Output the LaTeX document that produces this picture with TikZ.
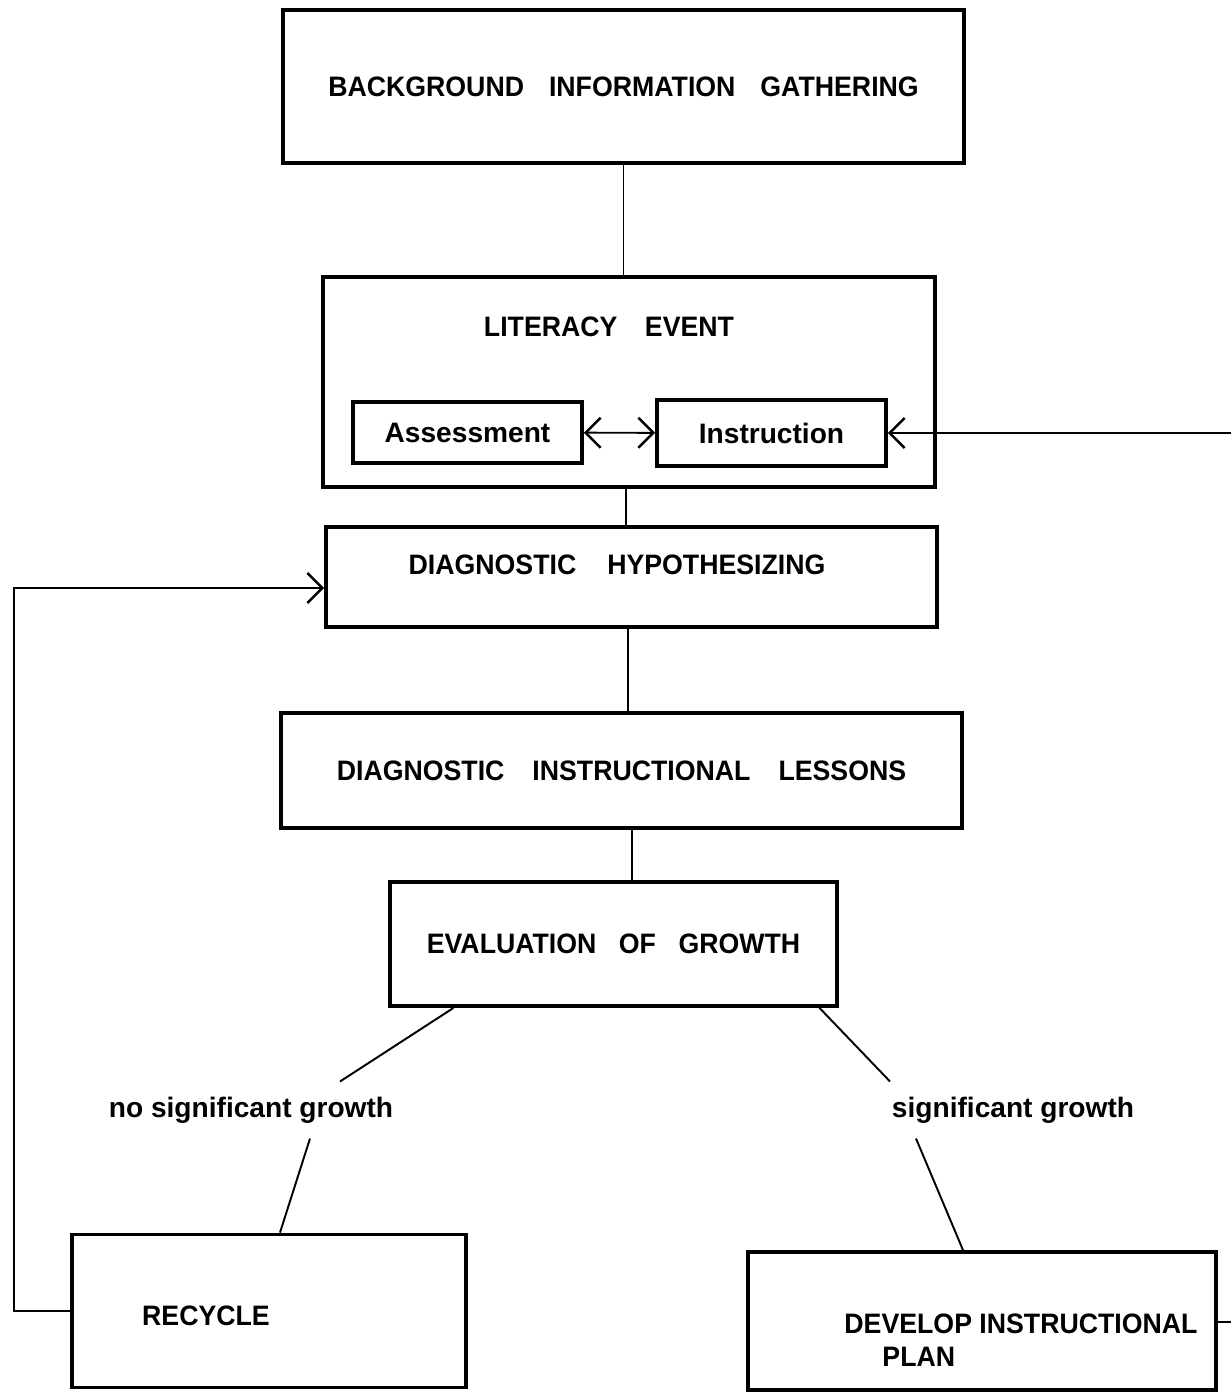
\documentclass[tikz,border=0pt]{standalone}
\usepackage{fontspec}
\setmainfont{Liberation Sans}
\newfontfamily\narrowfont[FakeStretch=0.95]{Liberation Sans}
\usetikzlibrary{arrows.meta, positioning, calc}
\tikzstyle{box} = [rectangle, draw=black, line width=2.2pt, inner sep=0pt, text centered, font=\fontsize{16}{19}\selectfont\narrowfont\bfseries]
\tikzstyle{smallbox} = [box, font=\fontsize{16}{19}\selectfont\bfseries]
\tikzstyle{txt} = [inner sep=0pt, font=\fontsize{16}{19}\selectfont\narrowfont\bfseries]
\tikzstyle{cond} = [inner sep=0.3cm, font=\fontsize{16}{19}\selectfont\bfseries]
\tikzstyle{line} = [line width=1.1pt]
\tikzstyle{arrow} = [line width=1.1pt, -{Straight Barb[length=0.3cm, width=0.6cm, line width=1.4pt]}]
\tikzstyle{biarrow} = [line width=1.1pt, {Straight Barb[length=0.3cm, width=0.6cm, line width=1.4pt]}-{Straight Barb[length=0.3cm, width=0.6cm, line width=1.4pt]}]

\begin{document}
\begin{tikzpicture}[x=0.02cm, y=-0.02cm]
    \useasboundingbox (0,0) rectangle (1231,1392);
    \node (gather) [box, minimum width=13.62cm, minimum height=3.06cm] at (623.5,86.5) {BACKGROUND\hspace{0.5cm}INFORMATION\hspace{0.5cm}GATHERING};
    \node (event) [box, minimum width=12.24cm, minimum height=4.2cm] at (629,382) {};
    \node (eventtitle) [txt] at (609,327) {LITERACY\hspace{0.55cm}EVENT};
    \node (assess) [smallbox, minimum width=4.58cm, minimum height=1.22cm] at (467.5,432.5) {Assessment};
    \node (instr) [smallbox, minimum width=4.58cm, minimum height=1.32cm] at (771.5,433) {Instruction};
    \node (hypo) [box, minimum width=12.22cm, minimum height=2cm] at (631.5,577) {};
    \node (hypotitle) [txt] at (617,565) {DIAGNOSTIC\hspace{0.62cm}HYPOTHESIZING};
    \node (lessons) [box, minimum width=13.62cm, minimum height=2.3cm] at (621.5,770.5) {DIAGNOSTIC\hspace{0.56cm}INSTRUCTIONAL\hspace{0.56cm}LESSONS};
    \node (eval) [box, minimum width=8.94cm, minimum height=2.48cm] at (613.5,944) {EVALUATION\hspace{0.45cm}OF\hspace{0.45cm}GROWTH};
    \node (nogrowth) [cond] at (251,1110) {no significant growth};
    \node (growth) [cond] at (1013,1110) {significant growth};
    \node (recycle) [box, minimum width=7.88cm, minimum height=3.06cm] at (269,1311) {};
    \node (recycletitle) [txt] at (206,1316) {RECYCLE};
    \node (plan) [box, minimum width=9.36cm, minimum height=2.76cm] at (982,1321) {};
    \node (plantitle) [txt, align=left] at (1021,1340) {DEVELOP INSTRUCTIONAL\\\hspace{0.76cm}PLAN};
    \coordinate (offright) at (1231,433);
    \coordinate (offplan) at (1231,1322);
    \coordinate (loopleft) at (14,588);

    \draw [line] (gather) -- (gather |- event.north);
    \draw [line] (event.south -| 626,0) -- (hypo.north -| 626,0);
    \draw [line] (hypo.south -| 628,0) -- (lessons.north -| 628,0);
    \draw [line] (lessons.south -| 632,0) -- (eval.north -| 632,0);
    \draw [biarrow] (assess) -- (instr);
    \draw [arrow] (offright) -- (instr.east);
    \draw [line] (plan.east |- offplan) -- (offplan);
    % way back round to the hypothesis
    \draw [arrow] (recycle.west) -| (loopleft) -- (hypo.west |- loopleft);
    % the two outcomes
    \draw [line] ($(eval.south west)!0.145!(eval.south east)$) -- ($(nogrowth.north)+(89,0)$);
    \draw [line] ($(nogrowth.south)+(59,0)$) -- ($(recycle.north)+(11,0)$);
    \draw [line] ($(eval.south west)!0.957!(eval.south east)$) -- ($(growth.north)+(-123,0)$);
    \draw [line] ($(growth.south)+(-97,0)$) -- ($(plan.north)+(-19,0)$);
\end{tikzpicture}
\end{document}
